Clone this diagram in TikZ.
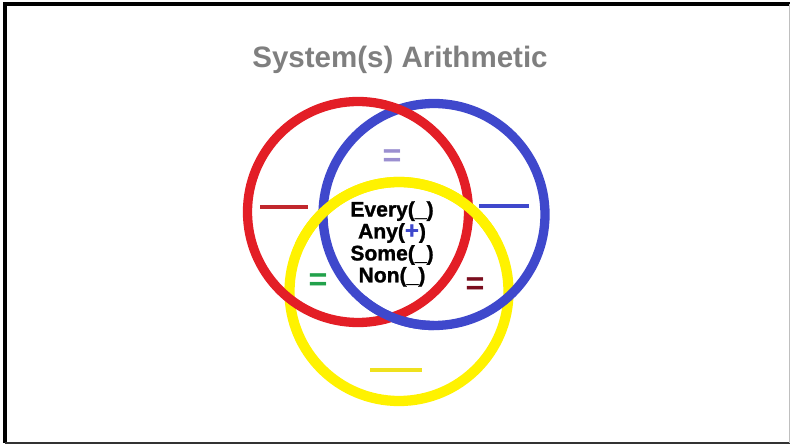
\documentclass[tikz,border=0pt]{standalone}
\usepackage{fontspec}
\setmainfont{Liberation Sans}
\newfontfamily\heavyfont[FakeBold=1.2]{Liberation Sans Bold}
\usepackage{xcolor}
\usetikzlibrary{positioning}

\definecolor{ringred}{HTML}{E31E26}
\definecolor{ringblue}{HTML}{3F48CC}
\definecolor{ringyellow}{HTML}{FFF200}
\definecolor{barred}{HTML}{C1272D}
\definecolor{baryellow}{HTML}{EFE11E}
\definecolor{eqpurple}{HTML}{9B8FD0}
\definecolor{eqgreen}{HTML}{22A14B}
\definecolor{eqdarkred}{HTML}{7A0D1E}
\definecolor{titlegray}{HTML}{7F7F7F}

\begin{document}
\begin{tikzpicture}[
    x=0.025cm, y=-0.025cm,
    ring/.style={line width=6.6pt},
    bar/.style={line width=2.4pt},
    eqsign/.style={font=\fontsize{23}{23}\selectfont\bfseries, inner sep=0pt},
    title/.style={font=\fontsize{21}{25}\selectfont\bfseries, text=titlegray},
    quant/.style={font=\fontsize{15}{15.6}\heavyfont, align=center, inner sep=0pt},
]
\useasboundingbox (0,0) rectangle (790,445);

% frame
\draw[line width=2.8pt] (3,4) -- (790,4);
\draw[line width=2.8pt] (5,4) -- (5,443);
\draw[line width=1.2pt, black!80] (5,443) -- (790,443);
\draw[line width=0.6pt, black!25] (789,4) -- (789,443);

\node[title] (head) at (400,60) {System(s) Arithmetic};

% the three rings
\coordinate (rc) at (358,212);
\coordinate (bc) at (434,214.5);
\coordinate (yc) at (399,291.5);

\draw[ring, ringyellow, line width=7.3pt] (yc) circle[radius=109.5];
\draw[ring, ringblue] (bc) circle[radius=111];
\draw[ring, ringred] (rc) circle[radius=110.5];
% over/under crossings
\draw[ring, ringblue] ([shift={(90:111)}]bc) arc[start angle=90, end angle=130, radius=111];
\draw[ring, ringyellow, line width=7.3pt] ([shift={(205:109.5)}]yc) arc[start angle=205, end angle=330, radius=109.5];

% minus bars
\coordinate (rm1) at (260,207); \coordinate (rm2) at (308,207);
\coordinate (bm1) at (479,206); \coordinate (bm2) at (529,206);
\coordinate (ym1) at (370,370); \coordinate (ym2) at (422,370);
\draw[bar, barred] (rm1) -- (rm2);
\draw[bar, ringblue] (bm1) -- (bm2);
\draw[bar, baryellow, line width=3pt] (ym1) -- (ym2);

% equal signs
\node[eqsign, text=eqpurple] (eqtop) at (392,158) {=};
\node[eqsign, text=eqgreen] (eqleft) at (318,282) {=};
\node[eqsign, text=eqdarkred] (eqright) at (475,286) {=};

\node[quant] (words) at (392,244)
    {Every(\_)\\Any({\color{ringblue}\fontsize{17}{15.6}\selectfont+})\\Some(\_)\\Non(\_)};

\end{tikzpicture}
\end{document}
